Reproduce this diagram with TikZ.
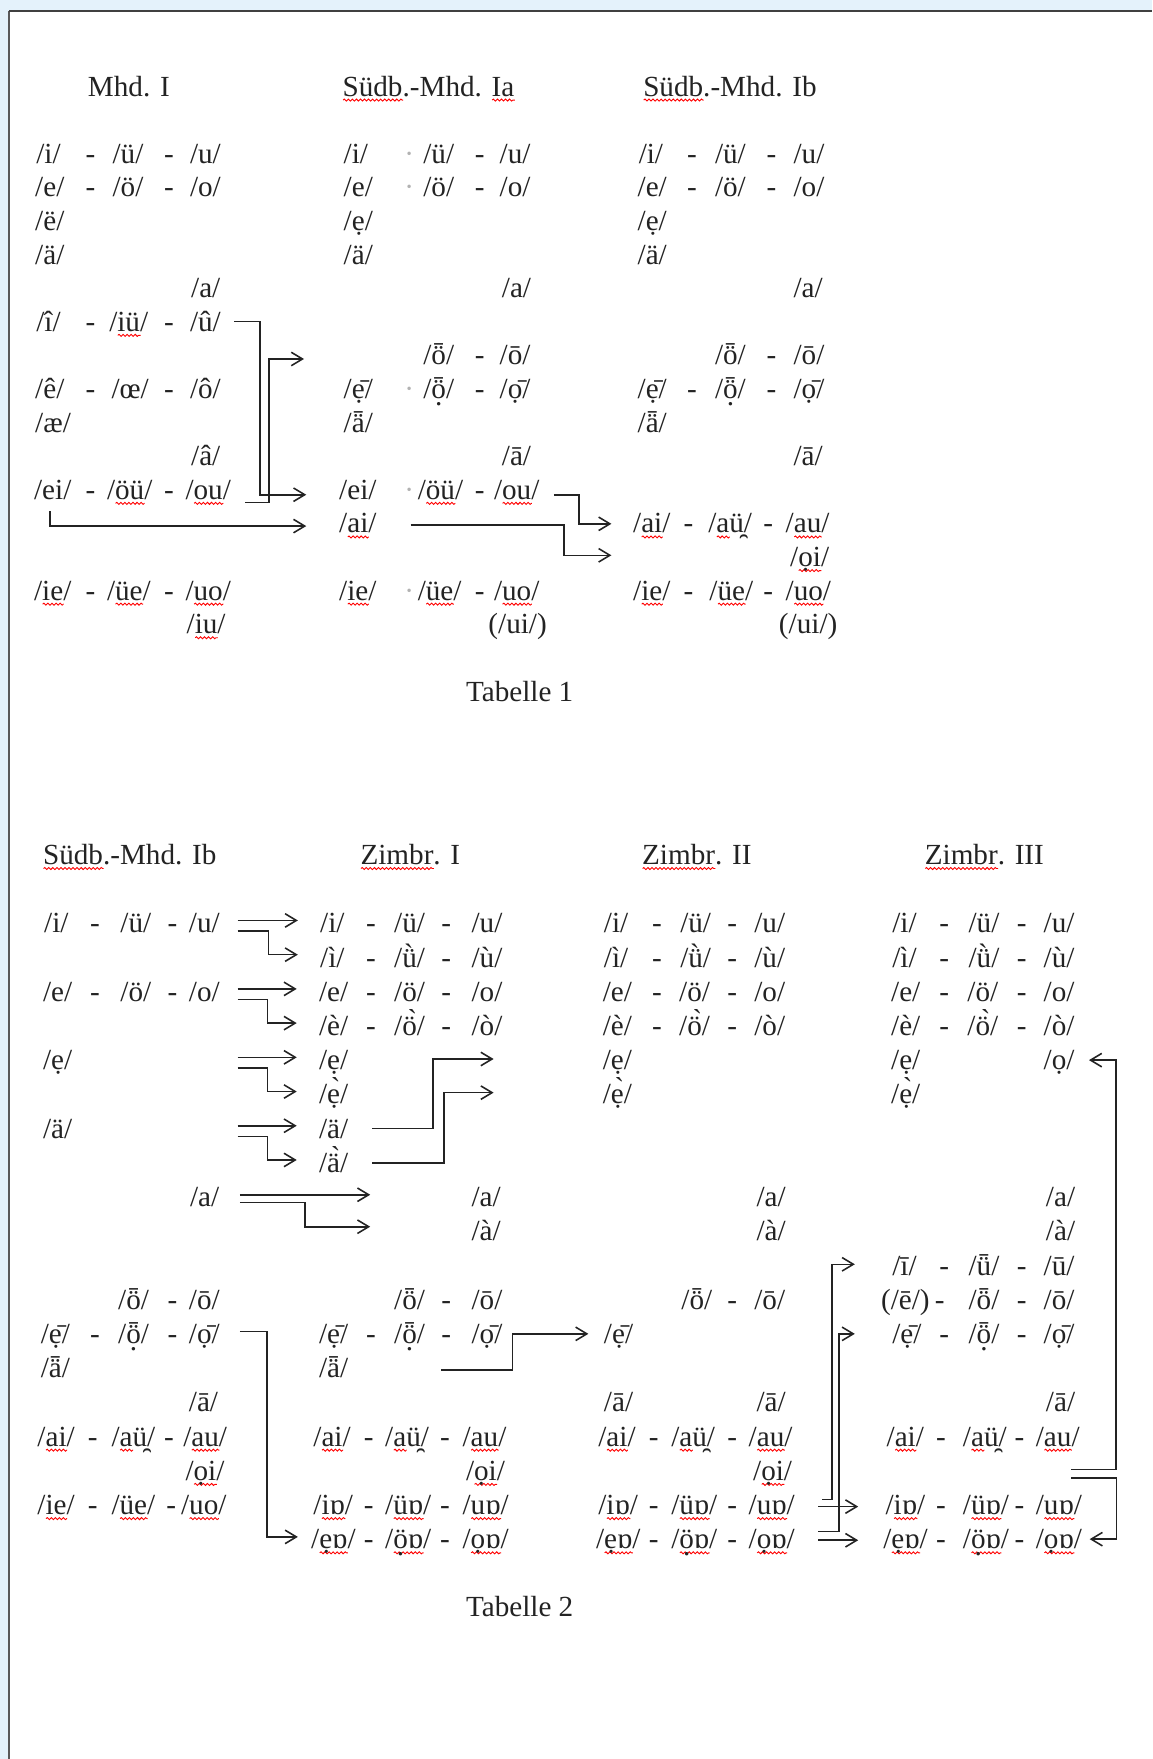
\documentclass[tikz,border=0pt]{standalone}
\usepackage{fontspec}
\setmainfont{Liberation Serif}
\usetikzlibrary{calc,arrows.meta,decorations.pathmorphing}
\definecolor{deskblue}{RGB}{228,242,251}
\definecolor{ink}{RGB}{35,35,35}
% red spelling wave under a word
\newdimen\splwd
\newcommand\spl[1]{\setbox0=\hbox{#1}\splwd=\wd0\rlap{\tikz[baseline=0pt]\draw[red,line width=.4pt,decorate,decoration={snake,amplitude=.45pt,segment length=1.8pt}] (0pt,-1.8pt) -- (\splwd,-1.8pt);}\box0}
\newcommand\ph[1]{/#1/}
\newcommand\dt{\textcolor{black!30}{·}}
% dot below a letter that already has marks above
\newcommand\db[1]{\ooalign{#1\cr\hidewidth\raisebox{-.24em}{.}\hidewidth\cr}}
% one row of a column: name, row number, x/text items
\newcommand\vrow[3]{%
  \foreach \x/\lbl [count=\i] in {#3}
    \node[ph] (#1-#2-\i) at (\x,{\ybase+\ystep*#2}) {\lbl};}

\begin{document}
\begin{tikzpicture}
  [x=0.5pt,y=-0.5pt,
   every node/.style={font=\fontsize{13}{15}\selectfont,text=ink},
   ph/.style={anchor=west,inner sep=0pt,text height=9.4pt,text depth=0.8pt},
   link/.style={draw=ink,line width=.7pt,-{Straight Barb[length=5pt,width=6pt]}}]
  \useasboundingbox (0,0) rectangle (1027,1568);
  \fill[deskblue] (0,0) rectangle (1027,1568);
  \fill[white] (8,10) rectangle (1027,1568);
  \draw[black!65,line width=.6pt] (8,1568) -- (8,10);
  \draw[black!75,line width=1pt] (8,10) -- (1027,10);

  % Tabelle 1
  \def\ybase{137}\def\ystep{29.95}
  \node[ph] (m-t) at (78,77) {Mhd. I};
  \node[ph] (a-t) at (305,77) {\spl{Südb}.-Mhd. \spl{Ia}};
  \node[ph] (b-t) at (573,77) {\spl{Südb}.-Mhd. Ib};

  \vrow{m}{0}{32/\ph{i}, 76/-, 100/\ph{ü}, 146/-, 169/\ph{u}}
  \vrow{m}{1}{31/\ph{e}, 76/-, 100/\ph{ö}, 146/-, 169/\ph{o}}
  \vrow{m}{2}{31/\ph{ë}}
  \vrow{m}{3}{31/\ph{ä}}
  \vrow{m}{4}{170/\ph{a}}
  \vrow{m}{5}{32/\ph{î}, 76/-, 97/\ph{\spl{iü}}, 146/-, 169/\ph{û}}
  \vrow{m}{7}{31/\ph{ê}, 76/-, 99/\ph{œ}, 146/-, 169/\ph{ô}}
  \vrow{m}{8}{31/\ph{æ}}
  \vrow{m}{9}{170/\ph{â}}
  \vrow{m}{10}{30/\ph{ei}, 76/-, 95/\ph{\spl{öü}}, 146/-, 165/\ph{\spl{ou}}}
  \vrow{m}{13}{30/\ph{\spl{ie}}, 76/-, 95/\ph{\spl{üe}}, 146/-, 165/\ph{\spl{uo}}}
  \vrow{m}{14}{166/\ph{\spl{iu}}}

  \vrow{a}{0}{306/\ph{i}, 360/\dt, 377/\ph{ü}, 423/-, 445/\ph{u}}
  \vrow{a}{1}{306/\ph{e}, 360/\dt, 377/\ph{ö}, 423/-, 445/\ph{o}}
  \vrow{a}{2}{306/\ph{ẹ}}
  \vrow{a}{3}{306/\ph{ä}}
  \vrow{a}{4}{447/\ph{a}}
  \vrow{a}{6}{377/\ph{ȫ}, 423/-, 445/\ph{ō}}
  \vrow{a}{7}{306/\ph{ẹ^^^^0304}, 360/\dt, 377/\ph{\db{ȫ}}, 423/-, 445/\ph{ọ^^^^0304}}
  \vrow{a}{8}{306/\ph{ǟ}}
  \vrow{a}{9}{447/\ph{ā}}
  \vrow{a}{10}{302/\ph{ei}, 360/\dt, 372/\ph{\spl{öü}}, 423/-, 440/\ph{\spl{ou}}}
  \vrow{a}{11}{302/\ph{\spl{ai}}}
  \vrow{a}{13}{302/\ph{\spl{ie}}, 360/\dt, 372/\ph{\spl{üe}}, 423/-, 440/\ph{\spl{uo}}}
  \vrow{a}{14}{435/(\ph{ui})}

  \vrow{b}{0}{569/\ph{i}, 612/-, 637/\ph{ü}, 683/-, 707/\ph{u}}
  \vrow{b}{1}{568/\ph{e}, 612/-, 637/\ph{ö}, 683/-, 707/\ph{o}}
  \vrow{b}{2}{568/\ph{ẹ}}
  \vrow{b}{3}{568/\ph{ä}}
  \vrow{b}{4}{707/\ph{a}}
  \vrow{b}{6}{637/\ph{ȫ}, 683/-, 707/\ph{ō}}
  \vrow{b}{7}{568/\ph{ẹ^^^^0304}, 612/-, 637/\ph{\db{ȫ}}, 683/-, 707/\ph{ọ^^^^0304}}
  \vrow{b}{8}{568/\ph{ǟ}}
  \vrow{b}{9}{707/\ph{ā}}
  \vrow{b}{11}{564/\ph{\spl{ai}}, 609/-, 631/\ph{\spl{a}ü^^^^032f}, 680/-, 700/\ph{\spl{au}}}
  \vrow{b}{12}{704/\ph{\spl{ọi}}}
  \vrow{b}{13}{564/\ph{\spl{ie}}, 609/-, 632/\ph{\spl{üe}}, 680/-, 700/\ph{\spl{uo}}}
  \vrow{b}{14}{694/(\ph{ui})}

  \node[ph] (tab1) at (415,617) {Tabelle 1};

  \draw[link] ($(m-5-5.east)+(11.5,0)$) -| ($(a-10-1.west)+(-70,4.5)$) -- ($(a-10-1.west)+(-29,4.5)$);
  \draw[link] ($(m-10-5.east)+(12.5,11.5)$) -| ($(a-6-1.west)+(-137,3.3)$) -- ($(a-6-1.west)+(-106,3.3)$);
  \draw[link] ($(m-10-1.south)+(-2.5,8.5)$) |- ($(a-11-1.west)+(-29,2.5)$);
  \draw[link] ($(a-10-5.east)+(12.5,4.5)$) -| ($(b-11-1.west)+(-48,0.5)$) -- ($(b-11-1.west)+(-19,0.5)$);
  \draw[link] ($(a-11-1.east)+(30,1.5)$) -| ($(b-12-1.west)+(-201,-1.4)$) -- ($(b-12-1.west)+(-159,-1.4)$);

  % Tabelle 2
  \def\ybase{823}\def\ystep{30.5}
  \node[ph] (s-t) at (38,762) {\spl{Südb}.-Mhd. Ib};
  \node[ph] (zi-t) at (321,762) {\spl{Zimbr}. I};
  \node[ph] (zii-t) at (572,762) {\spl{Zimbr}. II};
  \node[ph] (ziii-t) at (824,762) {\spl{Zimbr}. III};

  \vrow{s}{0}{39/\ph{i}, 80/-, 107/\ph{ü}, 149/-, 168/\ph{u}}
  \vrow{s}{2}{38/\ph{e}, 80/-, 107/\ph{ö}, 149/-, 168/\ph{o}}
  \vrow{s}{4}{38/\ph{ẹ}}
  \vrow{s}{6}{38/\ph{ä}}
  \vrow{s}{8}{169/\ph{a}}
  \vrow{s}{11}{105/\ph{ȫ}, 149/-, 168/\ph{ō}}
  \vrow{s}{12}{36/\ph{ẹ^^^^0304}, 80/-, 105/\ph{\db{ȫ}}, 149/-, 168/\ph{ọ^^^^0304}}
  \vrow{s}{13}{36/\ph{ǟ}}
  \vrow{s}{14}{168/\ph{ā}}
  \vrow{s}{15}{33/\ph{\spl{ai}}, 78/-, 99/\ph{\spl{a}ü^^^^032f}, 146/-, 163/\ph{\spl{au}}}
  \vrow{s}{16}{165/\ph{\spl{ọi}}}
  \vrow{s}{17}{33/\ph{\spl{ie}}, 78/-, 99/\ph{\spl{üe}}, 148/-, 161/\ph{\spl{uo}}}

  \vrow{zi}{0}{285/\ph{i}, 326/-, 351/\ph{ü}, 393/-, 420/\ph{u}}
  \vrow{zi}{1}{285/\ph{ì}, 326/-, 351/\ph{ǜ}, 393/-, 420/\ph{ù}}
  \vrow{zi}{2}{284/\ph{e}, 326/-, 351/\ph{ö}, 393/-, 420/\ph{o}}
  \vrow{zi}{3}{284/\ph{è}, 326/-, 351/\ph{ö^^^^0300}, 393/-, 420/\ph{ò}}
  \vrow{zi}{4}{284/\ph{ẹ}}
  \vrow{zi}{5}{284/\ph{ẹ^^^^0300}}
  \vrow{zi}{6}{284/\ph{ä}}
  \vrow{zi}{7}{284/\ph{ä^^^^0300}}
  \vrow{zi}{8}{420/\ph{a}}
  \vrow{zi}{9}{420/\ph{à}}
  \vrow{zi}{11}{351/\ph{ȫ}, 393/-, 420/\ph{ō}}
  \vrow{zi}{12}{284/\ph{ẹ^^^^0304}, 326/-, 351/\ph{\db{ȫ}}, 393/-, 420/\ph{ọ^^^^0304}}
  \vrow{zi}{13}{284/\ph{ǟ}}
  \vrow{zi}{15}{279/\ph{\spl{ai}}, 324/-, 343/\ph{\spl{a}ü^^^^032f}, 392/-, 412/\ph{\spl{au}}}
  \vrow{zi}{16}{415/\ph{\spl{ọi}}}
  \vrow{zi}{17}{279/\ph{\spl{iɒ}}, 324/-, 343/\ph{\spl{üɒ}}, 392/-, 412/\ph{\spl{uɒ}}}
  \vrow{zi}{18}{277/\ph{\spl{ẹɒ}}, 324/-, 343/\ph{\spl{\db{ö}ɒ}}, 392/-, 412/\ph{\spl{ọɒ}}}

  \vrow{zii}{0}{538/\ph{i}, 581/-, 606/\ph{ü}, 648/-, 672/\ph{u}}
  \vrow{zii}{1}{538/\ph{ì}, 581/-, 606/\ph{ǜ}, 648/-, 672/\ph{ù}}
  \vrow{zii}{2}{537/\ph{e}, 581/-, 605/\ph{ö}, 648/-, 672/\ph{o}}
  \vrow{zii}{3}{537/\ph{è}, 581/-, 605/\ph{ö^^^^0300}, 648/-, 672/\ph{ò}}
  \vrow{zii}{4}{537/\ph{ẹ}}
  \vrow{zii}{5}{537/\ph{ẹ^^^^0300}}
  \vrow{zii}{8}{674/\ph{a}}
  \vrow{zii}{9}{674/\ph{à}}
  \vrow{zii}{11}{607/\ph{ȫ}, 648/-, 672/\ph{ō}}
  \vrow{zii}{12}{538/\ph{ẹ^^^^0304}}
  \vrow{zii}{14}{538/\ph{ā}, 674/\ph{ā}}
  \vrow{zii}{15}{533/\ph{\spl{ai}}, 578/-, 598/\ph{\spl{a}ü^^^^032f}, 648/-, 667/\ph{\spl{au}}}
  \vrow{zii}{16}{671/\ph{\spl{ọi}}}
  \vrow{zii}{17}{533/\ph{\spl{iɒ}}, 578/-, 598/\ph{\spl{üɒ}}, 648/-, 667/\ph{\spl{uɒ}}}
  \vrow{zii}{18}{531/\ph{\spl{ẹɒ}}, 578/-, 598/\ph{\spl{\db{ö}ɒ}}, 648/-, 667/\ph{\spl{ọɒ}}}

  \vrow{ziii}{0}{795/\ph{i}, 837/-, 863/\ph{ü}, 906/-, 930/\ph{u}}
  \vrow{ziii}{1}{795/\ph{ì}, 837/-, 863/\ph{ǜ}, 906/-, 930/\ph{ù}}
  \vrow{ziii}{2}{794/\ph{e}, 837/-, 862/\ph{ö}, 906/-, 930/\ph{o}}
  \vrow{ziii}{3}{794/\ph{è}, 837/-, 862/\ph{ö^^^^0300}, 906/-, 930/\ph{ò}}
  \vrow{ziii}{4}{794/\ph{ẹ}, 930/\ph{ọ}}
  \vrow{ziii}{5}{794/\ph{ẹ^^^^0300}}
  \vrow{ziii}{8}{932/\ph{a}}
  \vrow{ziii}{9}{932/\ph{à}}
  \vrow{ziii}{10}{795/\ph{ī}, 837/-, 863/\ph{ǖ}, 906/-, 930/\ph{ū}}
  \vrow{ziii}{11}{785/(\ph{ē}), 833/-, 863/\ph{ȫ}, 906/-, 930/\ph{ō}}
  \vrow{ziii}{12}{795/\ph{ẹ^^^^0304}, 837/-, 863/\ph{\db{ȫ}}, 906/-, 930/\ph{ọ^^^^0304}}
  \vrow{ziii}{14}{932/\ph{ā}}
  \vrow{ziii}{15}{790/\ph{\spl{ai}}, 834/-, 858/\ph{\spl{a}ü^^^^032f}, 904/-, 923/\ph{\spl{au}}}
  \vrow{ziii}{17}{789/\ph{\spl{iɒ}}, 834/-, 858/\ph{\spl{üɒ}}, 904/-, 923/\ph{\spl{uɒ}}}
  \vrow{ziii}{18}{787/\ph{\spl{ẹɒ}}, 834/-, 858/\ph{\spl{\db{ö}ɒ}}, 904/-, 923/\ph{\spl{ọɒ}}}

  \node[ph] (tab2) at (415,1432) {Tabelle 2};

  \foreach \k/\n/\dx [evaluate=\k as \j using int(\k+1)] in {0/5/15.5, 2/5/15.5, 4/1/147, 6/1/147}{
    \draw[link] ($(s-\k-\n.east)+(\dx,-2.5)$) -- ($(zi-\k-1.west)+(-19.5,-2.5)$);
    \draw[link] ($(s-\k-\n.east)+(\dx,7)$) -| ($(zi-\j-1.west)+(-45.5,-2.5)$) -- ($(zi-\j-1.west)+(-19.5,-2.5)$);
  }
  \draw[link] ($(s-8-1.east)+(18,-2)$) -- ($(zi-8-1.west)+(-90,-2)$);
  \draw[link] ($(s-8-1.east)+(18,5)$) -| ($(zi-9-1.west)+(-148,-4)$) -- ($(zi-9-1.west)+(-90,-4)$);
  \draw[link] ($(s-12-5.east)+(17.5,-2)$) -| ($(zi-18-1.west)+(-39,-2)$) -- ($(zi-18-1.west)+(-11.5,-2)$);

  \draw[link] ($(zi-6-1.east)+(21,0)$) -| ($(zii-4-1.west)+(-151,-1)$) -- ($(zii-4-1.west)+(-97,-1)$);
  \draw[link] ($(zi-7-1.east)+(21,0)$) -| ($(zii-5-1.west)+(-141,-1.5)$) -- ($(zii-5-1.west)+(-97,-1.5)$);
  \draw[link] ($(zi-13-1.east)+(82.5,1.5)$) -| ($(zii-12-1.west)+(-81,0)$) -- ($(zii-12-1.west)+(-13.5,0)$);

  \draw[link] ($(zii-17-5.east)+(24,-5)$) -| ($(ziii-10-1.west)+(-53.5,-1)$) -- ($(ziii-10-1.west)+(-33,-1)$);
  \draw[link] ($(zii-18-5.east)+(20.5,-7)$) -| ($(ziii-12-1.west)+(-47,0)$) -- ($(ziii-12-1.west)+(-33,0)$);
  \draw[link] ($(zii-17-5.east)+(20.5,1.5)$) -- ($(ziii-17-1.west)+(-24,1.5)$);
  \draw[link] ($(zii-18-5.east)+(20.5,1)$) -- ($(ziii-18-1.west)+(-22,1)$);

  \draw[link] ($(ziii-15-5.east)+(-8,29.5)$) -| ($(ziii-4-2.east)+(36.5,0)$) -- ($(ziii-4-2.east)+(12.5,0)$);
  \draw[link] ($(ziii-15-5.east)+(-8,37)$) -| ($(ziii-18-5.east)+(30.5,0)$) -- ($(ziii-18-5.east)+(6.5,0)$);
\end{tikzpicture}
\end{document}
